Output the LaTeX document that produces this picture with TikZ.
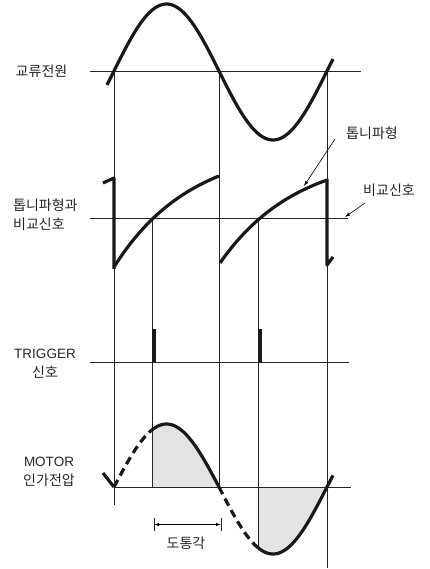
\documentclass[tikz,border=0pt]{standalone}
\usepackage{fontspec}
\setmainfont{Liberation Sans}
\newfontfamily\kr{Noto Sans CJK KR}
\usetikzlibrary{arrows.meta}
\begin{document}
\begin{tikzpicture}[x=1pt,y=-1pt,
  thinline/.style={line width=0.9pt,black!85},
  wave/.style={line width=3.2pt,black!90},
  dashwave/.style={line width=3.2pt,black!90,dash pattern=on 8pt off 5pt},
  shadearea/.style={fill=black!11},
  lbl/.style={inner sep=0pt,font=\kr\fontsize{14}{19}\selectfont,align=center,text=black!85},
  pointer/.style={line width=0.6pt,-{Latex[length=5pt,width=3.5pt]}},
  dimarrow/.style={line width=0.8pt,{Latex[length=5pt,width=3.5pt]}-{Latex[length=5pt,width=3.5pt]}}]
\useasboundingbox (0,0) rectangle (430,569);

% shaded conduction areas
\fill[shadearea] (152,487) -- plot[domain=152:219,samples=40] (\x,{487-63*sin((\x-114)/105*180)}) -- cycle;
\fill[shadearea] (258,487) -- plot[domain=258:327,samples=40] (\x,{487+67*sin((\x-219)/108*180)}) -- cycle;

% horizontal reference lines
\draw[thinline] (90,71) -- (361,71);
\draw[thinline] (90,218) -- (348,218);
\draw[thinline] (90,362) -- (349,362);
\draw[thinline] (114,487) -- (351,487);

% vertical lines
\draw[thinline] (114,71) -- (114,505);
\draw[thinline] (219,71) -- (219,487);
\draw[thinline] (327,71) -- (327,568);
\draw[thinline] (152,218) -- (152,487);
\draw[thinline] (258,218) -- (258,548);

% AC source sine
\draw[wave] plot[domain=107:219,samples=60] (\x,{71-67*sin((\x-114)/105*180)})
  -- plot[domain=219:333,samples=60] (\x,{71+69*sin((\x-219)/108*180)});

% sawtooth
\draw[wave,line join=round] (103,183) -- (114,178) -- (114,269);
\draw[wave] plot[domain=0:105,samples=40] ({114+\x},{267-91*(1-exp(-0.013*\x))/(1-exp(-0.013*105))});
\draw[wave] plot[domain=0:107,samples=40] ({220+\x},{263-83*(1-exp(-0.013*\x))/(1-exp(-0.013*107))});
\draw[wave,line join=round] (327,179) -- (327,265) -- (333,257);

% trigger pulses
\fill[black!90] (152,329) rectangle (155.5,362);
\fill[black!90] (258,329) rectangle (261.5,362);

% motor voltage
\draw[wave] (103,473) -- (114,487);
\draw[dashwave] plot[domain=114:152,samples=30] (\x,{487-63*sin((\x-114)/105*180)});
\draw[wave] plot[domain=152:219,samples=40] (\x,{487-63*sin((\x-114)/105*180)});
\draw[dashwave] plot[domain=219:258,samples=30] (\x,{487+67*sin((\x-219)/108*180)});
\draw[wave] plot[domain=258:333,samples=40] (\x,{487+67*sin((\x-219)/108*180)});

% conduction angle dimension
\draw[thinline] (154,518) -- (154,531);
\draw[thinline] (221,518) -- (221,531);
\coordinate (dimL) at (154,524.5);
\coordinate (dimR) at (221,524.5);
\draw[dimarrow] (dimL) -- (dimR);

% labels
\node[lbl] (ac) at (41.5,71) {교류전원};
\node[lbl,align=left,anchor=west] (saw) at (13,215) {톱니파형과\\비교신호};
\node[lbl] (trig) at (45,364) {{\rmfamily\fontsize{13.5}{19}\selectfont TRIGGER}\\신호};
\node[lbl] (motor) at (49,472) {{\rmfamily\fontsize{13.5}{19}\selectfont MOTOR}\\인가전압};
\node[lbl] (sawlbl) at (372,133) {톱니파형};
\node[lbl] (cmplbl) at (389,190) {비교신호};
\node[lbl] (angle) at (186,543) {도통각};

% pointers
\coordinate (sawtip) at (304,186);
\coordinate (sawstart) at (335,139);
\coordinate (cmptip) at (345,217);
\coordinate (cmpstart) at (365,203);
\draw[pointer] (sawstart) -- (sawtip);
\draw[pointer] (cmpstart) -- (cmptip);
\end{tikzpicture}
\end{document}
